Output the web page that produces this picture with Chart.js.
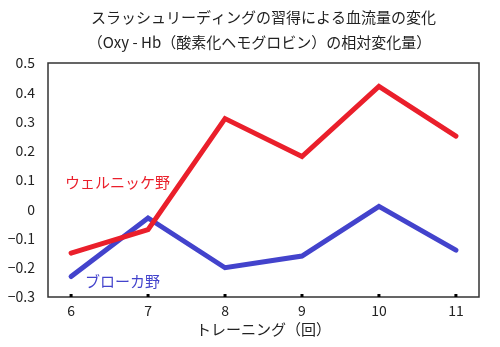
<!DOCTYPE html>
<html>
<head>
<meta charset="utf-8">
<script src="https://cdn.jsdelivr.net/npm/chart.js@4"></script>
<style>
    body { margin: 0; background: #fff; }
    #wrap { width: 500px; height: 347px; }
</style>
</head>
<body>
<div id="wrap"><canvas id="chart" width="500" height="347"></canvas></div>
<script>
const sessions = [6, 7, 8, 9, 10, 11]
const wernicke = [-0.15, -0.07, 0.31, 0.18, 0.42, 0.25]
const broca = [-0.23, -0.03, -0.20, -0.16, 0.01, -0.14]
const yTicks = [-0.3, -0.2, -0.1, 0, 0.1, 0.2, 0.3, 0.4, 0.5]
const titleLines = ['スラッシュリーディングの習得による血流量の変化', '（Oxy - Hb（酸素化ヘモグロビン）の相対変化量）']

const FONT = '"Noto Sans CJK JP", "Noto Sans", sans-serif'
const RED = '#ea1f2b'
const BLUE = '#4343cc'

function toPoints(values) {
    return values.map((v, i) => ({ x: sessions[i], y: v }))
}

// title, box, tick marks and series labels
const decor = {
    id: 'decor',
    beforeDatasetsDraw(chart) {
        const ctx = chart.ctx
        const a = chart.chartArea
        ctx.save()
        ctx.strokeStyle = '#333'
        ctx.lineWidth = 1.5
        ctx.strokeRect(a.left, a.top, a.right - a.left, a.bottom - a.top)
        ctx.restore()
    },
    afterDraw(chart) {
        const ctx = chart.ctx
        const a = chart.chartArea
        const xs = chart.scales.x
        const ys = chart.scales.y
        ctx.save()
        ctx.fillStyle = '#222'
        ctx.font = '15px ' + FONT
        ctx.textAlign = 'center'
        ctx.textBaseline = 'middle'
        const cx = (a.left + a.right) / 2
        ctx.fillText(titleLines[0], cx, 17)
        ctx.fillText(titleLines[1], cx - 4, 42)

        ctx.fillStyle = '#000'
        sessions.forEach(s => {
            const px = xs.getPixelForValue(s)
            ctx.fillRect(px - 1.5, a.bottom - 3, 3, 3)
        })

        ctx.font = '15px ' + FONT
        ctx.textAlign = 'left'
        ctx.fillStyle = RED
        ctx.fillText('ウェルニッケ野', 65, ys.getPixelForValue(0.093))
        ctx.fillStyle = BLUE
        ctx.fillText('ブローカ野', 85, ys.getPixelForValue(-0.245))
        ctx.restore()
    }
}

new Chart(document.getElementById('chart'), {
    type: 'line',
    data: {
        datasets: [{
            label: 'ウェルニッケ野',
            data: toPoints(wernicke),
            borderColor: RED,
            borderWidth: 5,
            borderCapStyle: 'round',
            pointRadius: 0,
            tension: 0
        }, {
            label: 'ブローカ野',
            data: toPoints(broca),
            borderColor: BLUE,
            borderWidth: 5,
            borderCapStyle: 'round',
            pointRadius: 0,
            tension: 0
        }]
    },
    plugins: [decor],
    options: {
        responsive: false,
        animation: false,
        layout: { padding: { top: 63, right: 21, left: 0, bottom: 0 } },
        plugins: {
            legend: { display: false },
            tooltip: { enabled: false }
        },
        scales: {
            x: {
                type: 'linear',
                min: 5.7,
                max: 11.3,
                grid: { display: false },
                border: { display: false },
                afterBuildTicks(scale) {
                    scale.ticks = sessions.map(v => ({ value: v }))
                },
                afterFit(scale) { scale.height = 50 },
                ticks: {
                    color: '#222',
                    font: { family: FONT, size: 14 },
                    padding: -3,
                    maxRotation: 0,
                    callback: v => String(v)
                },
                title: {
                    display: true,
                    text: 'トレーニング（回）',
                    color: '#222',
                    font: { family: FONT, size: 15 },
                    padding: { top: 0, bottom: 9 }
                }
            },
            y: {
                min: -0.3,
                max: 0.5,
                grid: { display: false },
                border: { display: false },
                afterBuildTicks(scale) {
                    scale.ticks = yTicks.map(v => ({ value: v }))
                },
                afterFit(scale) { scale.width = 48 },
                ticks: {
                    color: '#222',
                    font: { family: FONT, size: 14 },
                    padding: 5,
                    callback: v => {
                        if (Math.abs(v) < 1e-9) return '0'
                        const s = Math.abs(v).toFixed(1)
                        return v < 0 ? '−' + s : s
                    }
                }
            }
        }
    }
})
</script>
</body>
</html>
